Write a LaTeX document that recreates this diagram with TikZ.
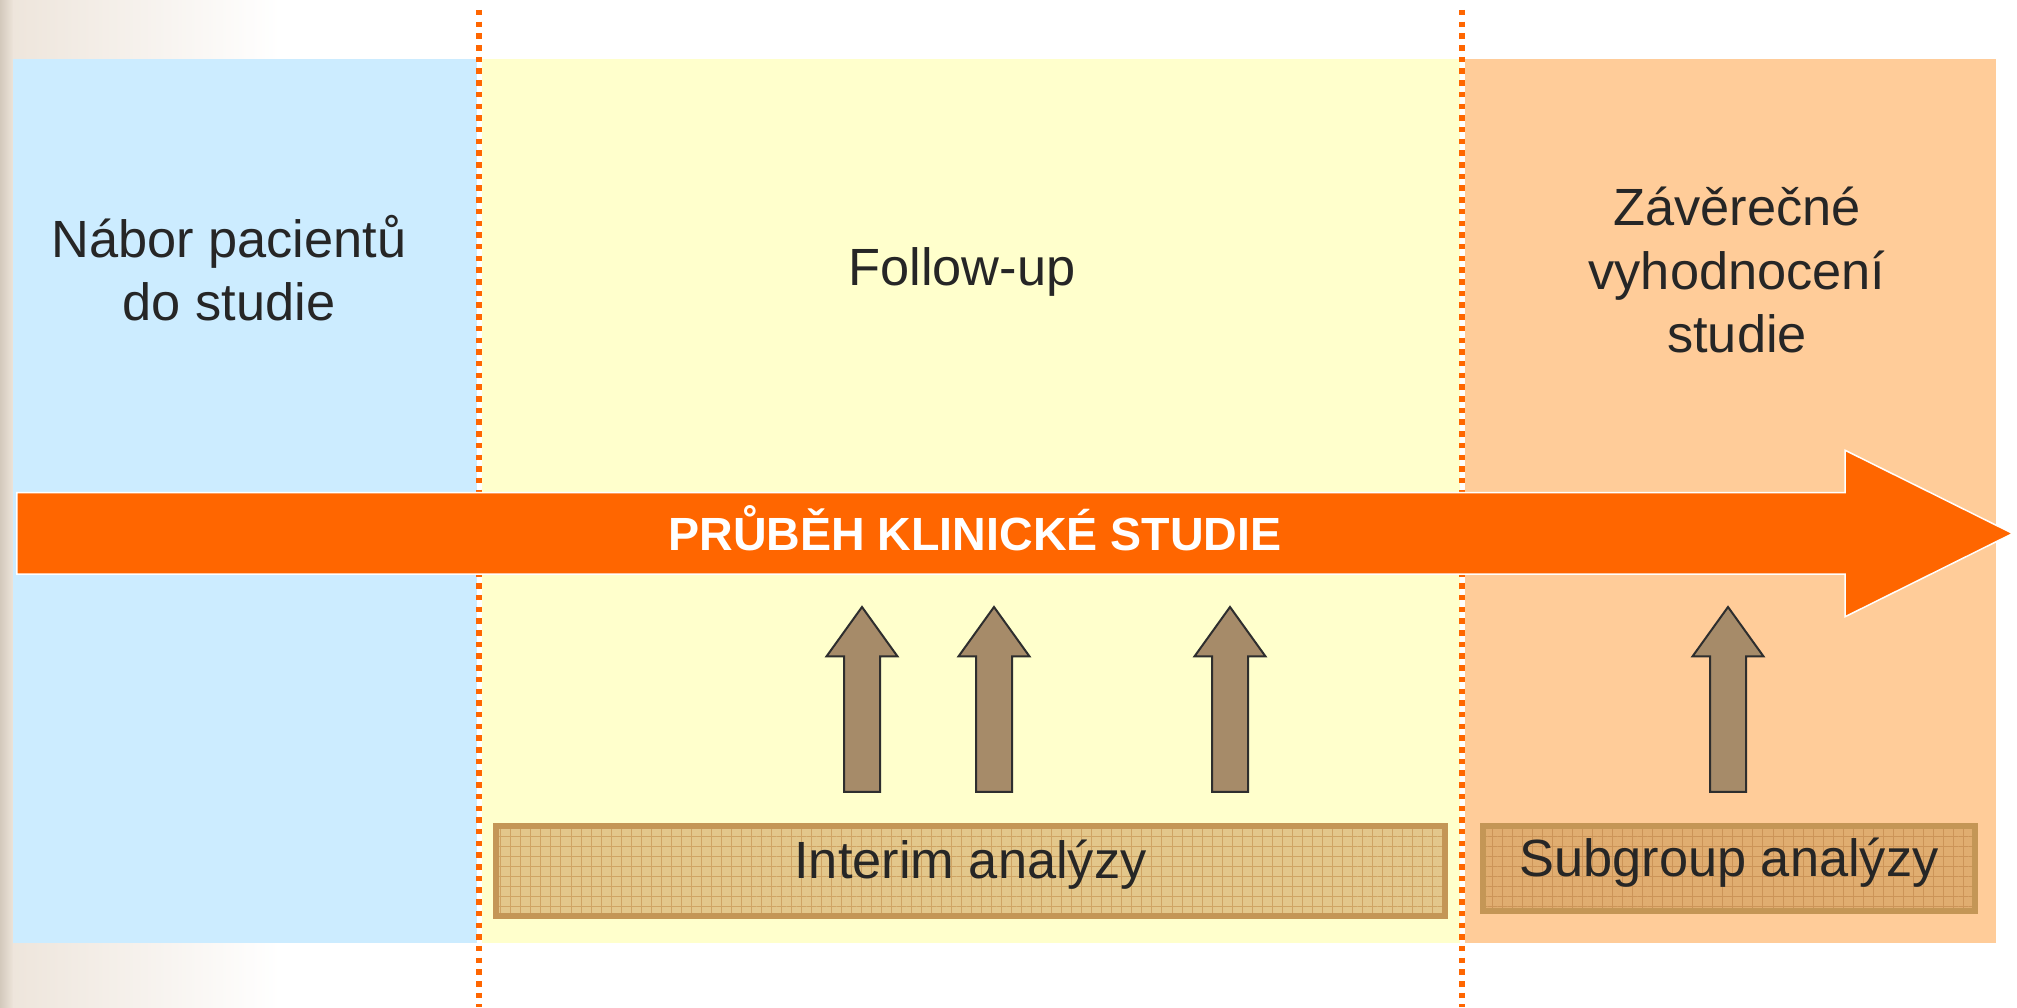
\documentclass[tikz,border=0pt]{standalone}
\usepackage{fontspec}
\setmainfont{Liberation Sans}
\usepackage{tikz}
\usetikzlibrary{calc,positioning,shapes.arrows,patterns.meta}

\definecolor{recruitblue}{HTML}{CCECFF}
\definecolor{followyellow}{HTML}{FFFFCC}
\definecolor{finalorange}{HTML}{FFCC99}
\definecolor{courseorange}{HTML}{FF6600}
\definecolor{textdark}{HTML}{262626}
\definecolor{pointtan}{HTML}{A68B69}
\definecolor{pointedge}{HTML}{2E2E2E}
\definecolor{anaborder}{HTML}{C49656}
\definecolor{interimfill}{HTML}{E3C78B}
\definecolor{interimgrid}{HTML}{CFA464}
\definecolor{subfill}{HTML}{E0AD70}
\definecolor{subgrid}{HTML}{CC9458}
\definecolor{fadebeige}{HTML}{EDE4DA}
\definecolor{edgebeige}{HTML}{D3C9BC}

\tikzset{
  phasebox/.style={rectangle,inner sep=0,minimum height=17.68cm,anchor=south west},
  anabox/.style={rectangle,draw=anaborder,line width=0.12cm,inner sep=0,text height=0.32cm,text depth=0cm},
  pointarrow/.style={single arrow,draw=pointedge,fill=pointtan,line width=0.04cm,rotate=90,anchor=tail,
    minimum height=3.70cm,inner xsep=0,inner ysep=0.34cm,single arrow head extend=0.35cm,single arrow tip angle=71.4}
}

\begin{document}
\begin{tikzpicture}[font=\fontsize{29.8}{36.3}\selectfont,text=textdark]

  \useasboundingbox (0,0) rectangle (40.34,20.14);
  \shade [left color=fadebeige,right color=white] (0,0) rectangle (5.6,20.14);
  \shade [left color=edgebeige,right color=fadebeige] (0,0) rectangle (0.26,20.14);

  \coordinate (start) at (0.26,1.28);

  \foreach \i/\x/\w/\c in {0/0/9.32/recruitblue,1/9.32/19.66/followyellow,2/28.98/10.68/finalorange}
           {
             \node (phase_\i) [phasebox,fill=\c,minimum width=\w cm] at($(start) + (\x,0)$) {};
           }

  \foreach \i/\x in {0/9.58,1/29.24}
           {
             \coordinate (div_top_\i) at (\x,19.94);
             \coordinate (div_bot_\i) at (\x,0);
             \draw [white,line width=0.1cm] (div_top_\i) -- (div_bot_\i);
             \draw [courseorange,line width=0.11cm,dash pattern=on 0.11cm off 0.124cm] (div_top_\i) -- (div_bot_\i);
           }

  \node (recruit_txt) [anchor=base,align=center] at(4.58,13.72) {Nábor pacientů\\do studie};
  \node (follow_txt) [anchor=base] at(19.24,14.42) {Follow-up};
  \node (final_txt) [anchor=base,align=center] at(34.74,13.08) {Závěrečné\\vyhodnocení\\studie};

  \node (course) [single arrow,fill=courseorange,draw=white,line width=0.03cm,anchor=tail,
                  minimum height=39.92cm,inner xsep=0,inner ysep=0.8cm,
                  single arrow head extend=0.85cm,single arrow tip angle=52.8] at(0.32,9.47) {};
  \node (course_txt) [anchor=base,text=white,font=\fontsize{26.5}{30}\selectfont\bfseries] at(19.5,9.126) {PRŮBĚH KLINICKÉ STUDIE};

  \foreach \i/\x in {0/17.24,1/19.88,2/24.60,3/34.56}
           {
             \node (point_\i) [pointarrow] at(\x,4.28) {};
           }

  \node (interim) [anabox,minimum width=18.98cm,minimum height=1.80cm,
                   preaction={fill=interimfill},
                   preaction={pattern={Hatch[angle=0,distance=5.7pt,line width=0.5pt]},pattern color=interimgrid}] at(19.41,2.72) {Interim analýzy};
  \node (subgroup) [anabox,minimum width=9.84cm,minimum height=1.70cm,
                    preaction={fill=subfill},
                    preaction={pattern={Hatch[angle=0,distance=5.7pt,line width=0.5pt]},pattern color=subgrid}] at(34.58,2.77) {Subgroup analýzy};

\end{tikzpicture}
\end{document}
